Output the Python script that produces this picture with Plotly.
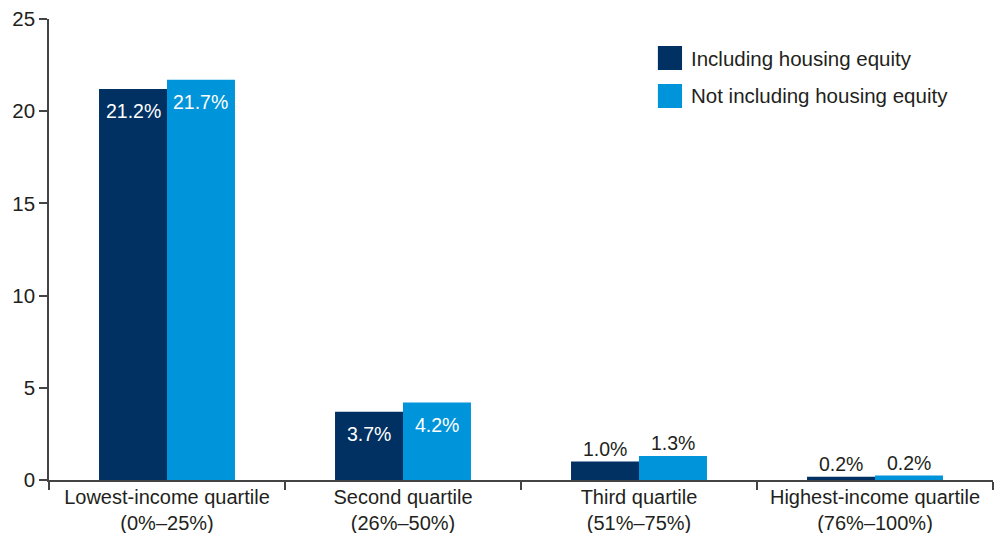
import plotly.graph_objects as go

categories = ["Lowest-income quartile<br>(0%–25%)", "Second quartile<br>(26%–50%)",
              "Third quartile<br>(51%–75%)", "Highest-income quartile<br>(76%–100%)"]
series_names = ["Including housing equity", "Not including housing equity"]
incl_housing = [21.2, 3.7, 1.0, 0.18]
excl_housing = [21.7, 4.2, 1.3, 0.24]
inside_flags = [True, True, False, False]
y_ticks = [0, 5, 10, 15, 20, 25]

colors = ["#003162", "#0095da"]
font_family = "Liberation Sans, Arial, Helvetica, sans-serif"
text_color = "#231f20"
bargap = 0.424

fig = go.Figure()
for name, vals, col in zip(series_names, [incl_housing, excl_housing], colors):
    fig.add_trace(go.Bar(x=categories, y=vals, name=name, marker=dict(color=col, line=dict(width=0)),
                         showlegend=False, hoverinfo="x+y"))

annotations = []
half = (1 - bargap) / 4
for j, vals in enumerate([incl_housing, excl_housing]):
    off = -half if j == 0 else half
    for i, v in enumerate(vals):
        inside = inside_flags[i]
        annotations.append(dict(
            x=i + off, y=v, xref="x", yref="y", text=f"{v:.1f}%", showarrow=False,
            yshift=-22 if inside else 13,
            font=dict(family=font_family, size=19.5, color="white" if inside else text_color)))

# custom legend (large square keys)
leg_x0, leg_x1 = 0.645, 0.6706
leg_rows = [(0.9414, 0.8894), (0.859, 0.807)]
shapes = []
for (y1, y0), col, name in zip(leg_rows, colors, series_names):
    shapes.append(dict(type="rect", xref="paper", yref="paper", x0=leg_x0, x1=leg_x1, y0=y0, y1=y1,
                       fillcolor=col, line=dict(width=0)))
    annotations.append(dict(x=0.678, y=(y0 + y1) / 2, xref="paper", yref="paper", text=name,
                            showarrow=False, xanchor="left", yanchor="middle",
                            font=dict(family=font_family, size=20.5, color=text_color)))

fig.update_layout(
    width=1005, height=533,
    margin=dict(l=49, r=12, t=19, b=53),
    paper_bgcolor="white", plot_bgcolor="white",
    barmode="group", bargap=bargap, bargroupgap=0,
    font=dict(family=font_family, size=20, color=text_color),
    annotations=annotations, shapes=shapes,
    showlegend=False,
)
fig.update_xaxes(type="category", tickson="boundaries", ticks="outside", ticklen=8, tickwidth=1.5,
                 tickcolor="#444", showline=True, linecolor="#444", linewidth=1.5, showgrid=False,
                 automargin=False, ticklabelstandoff=-2, tickfont=dict(size=20, color=text_color))
fig.update_yaxes(range=[0, 25], tickvals=y_ticks, ticks="outside", ticklen=8, tickwidth=1.5,
                 tickcolor="#444", showline=True, linecolor="#444", linewidth=1.5, showgrid=False,
                 automargin=False, zeroline=False, tickfont=dict(size=20.5, color=text_color))

fig.write_html("out.html", config={"displayModeBar": False},
               post_script="document.body.style.margin='0px';document.body.style.overflow='hidden';")
